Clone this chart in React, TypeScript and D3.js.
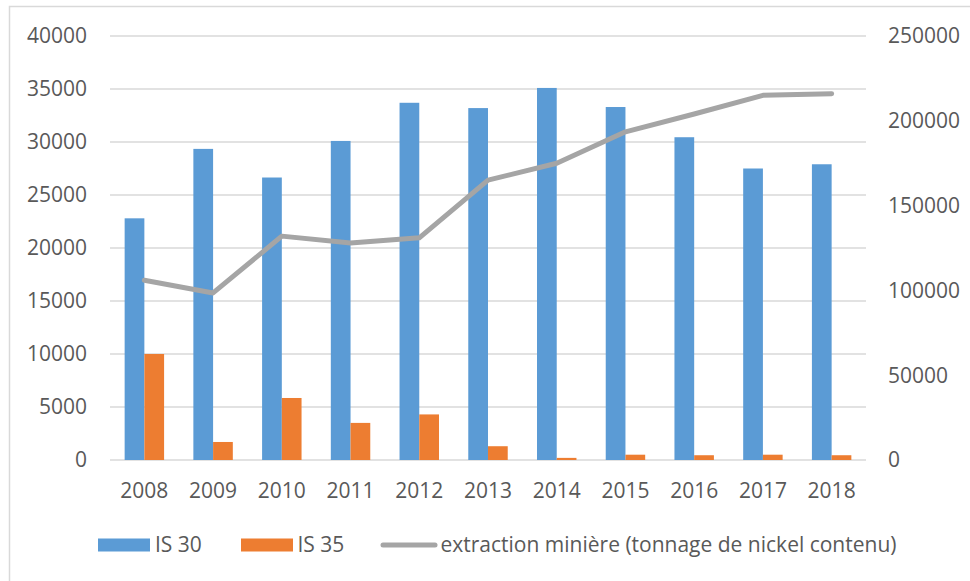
import React from "react";
import * as d3 from "d3";

const years = ["2008", "2009", "2010", "2011", "2012", "2013", "2014", "2015", "2016", "2017", "2018"];
const is30 = [22800, 29350, 26650, 30100, 33700, 33200, 35100, 33300, 30450, 27500, 27900];
const is35 = [10000, 1700, 5850, 3500, 4300, 1300, 200, 500, 450, 500, 450];
const extraction = [106000, 98500, 132000, 128000, 131000, 165000, 175000, 193500, 204000, 215000, 216000];
const leftTicks = [0, 5000, 10000, 15000, 20000, 25000, 30000, 35000, 40000];
const rightTicks = [0, 50000, 100000, 150000, 200000, 250000];
const seriesNames = ["IS 30", "IS 35", "extraction minière (tonnage de nickel contenu)"];

const W = 970;
const H = 581;
const plotLeft = 110;
const plotRight = 866;
const plotTop = 36;
const plotBottom = 460;
const FONT = "'Open Sans', sans-serif";
const FS = 21;
const TEXT = "#595959";
const GRID = "#d9d9d9";
const BLUE = "#5b9bd5";
const ORANGE = "#ed7d31";
const GRAY = "#a5a5a5";

export default function App() {
  const x = d3.scaleBand<string>().domain(years).range([plotLeft, plotRight]).paddingInner(0).paddingOuter(0);
  const bw = x.bandwidth();
  const groupW = bw * 0.574;
  const sub = d3.scaleBand<string>().domain(["a", "b"]).range([0, groupW]);
  const yL = d3.scaleLinear().domain([0, 40000]).range([plotBottom, plotTop]);
  const yR = d3.scaleLinear().domain([0, 250000]).range([plotBottom, plotTop]);
  const line = d3
    .line<number>()
    .x((_, i) => (x(years[i]) as number) + bw / 2)
    .y((d) => yR(d));

  return (
    <svg width={W} height={H} style={{ position: "absolute", left: 0, top: 0, background: "#fff" }} fontFamily={FONT}>
      <rect x={0} y={0} width={W} height={H} fill="#fff" />
      <rect x={9.5} y={6.5} width={W + 10} height={H + 10} fill="none" stroke={GRID} strokeWidth={1.5} />
      {leftTicks.map((t) => (
        <line key={"g" + t} x1={plotLeft} x2={plotRight} y1={yL(t)} y2={yL(t)} stroke={GRID} strokeWidth={1.4} />
      ))}
      {leftTicks.map((t) => (
        <text key={"l" + t} x={87} y={yL(t)} dy="0.35em" textAnchor="end" fontSize={FS} fill={TEXT}>
          {t}
        </text>
      ))}
      {rightTicks.map((t) => (
        <text key={"r" + t} x={888} y={yR(t)} dy="0.35em" textAnchor="start" fontSize={FS} fill={TEXT}>
          {t}
        </text>
      ))}
      {years.map((yr, i) => {
        const gx = (x(yr) as number) + (bw - groupW) / 2;
        return (
          <g key={yr}>
            <rect x={gx + (sub("a") as number)} y={yL(is30[i])} width={sub.bandwidth()} height={plotBottom - yL(is30[i])} fill={BLUE} />
            <rect x={gx + (sub("b") as number)} y={yL(is35[i])} width={sub.bandwidth()} height={plotBottom - yL(is35[i])} fill={ORANGE} />
            <text x={(x(yr) as number) + bw / 2} y={491} dy="0.35em" textAnchor="middle" fontSize={FS} fill={TEXT}>
              {yr}
            </text>
          </g>
        );
      })}
      <path d={line(extraction) || ""} fill="none" stroke={GRAY} strokeWidth={5} strokeLinejoin="round" strokeLinecap="round" />
      <g>
        <rect x={98} y={538.5} width={52} height={13} fill={BLUE} />
        <text x={155} y={545} dy="0.35em" fontSize={FS} fill={TEXT}>{seriesNames[0]}</text>
        <rect x={241} y={538.5} width={52} height={13} fill={ORANGE} />
        <text x={297.5} y={545} dy="0.35em" fontSize={FS} fill={TEXT}>{seriesNames[1]}</text>
        <line x1={383} x2={435} y1={545} y2={545} stroke={GRAY} strokeWidth={5} strokeLinecap="round" />
        <text x={440.5} y={545} dy="0.35em" fontSize={FS} fill={TEXT}>{seriesNames[2]}</text>
      </g>
    </svg>
  );
}
